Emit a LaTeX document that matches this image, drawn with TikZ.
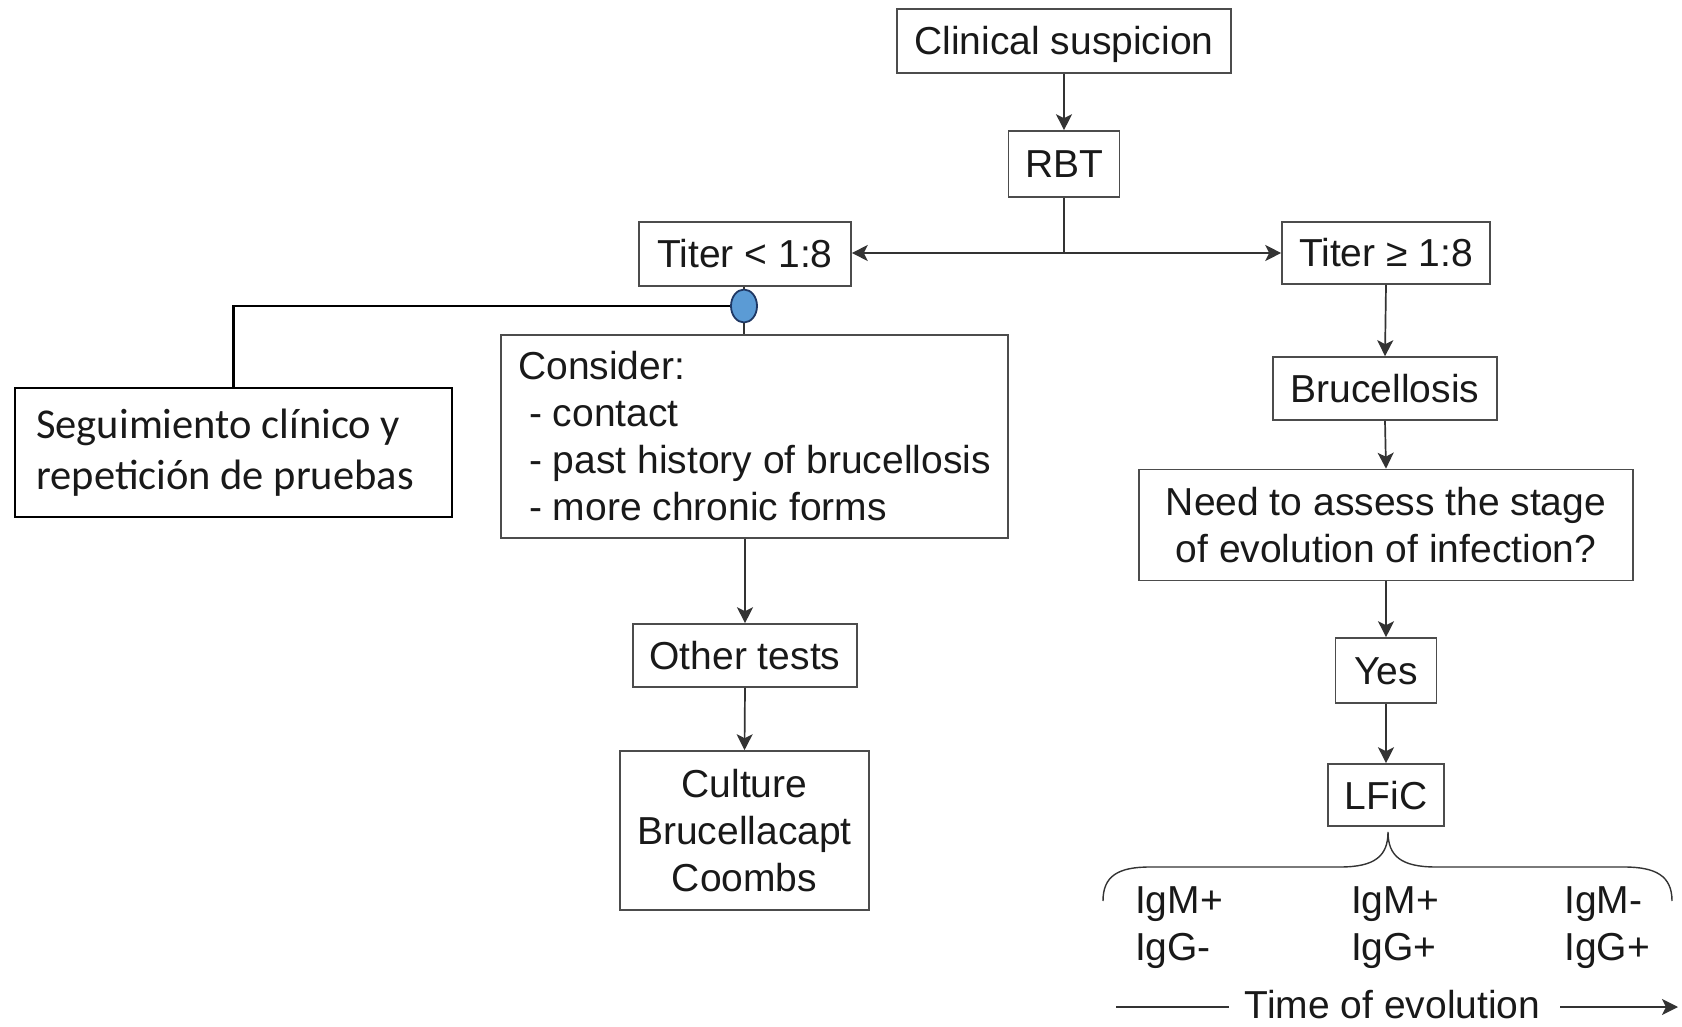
\documentclass[tikz,border=0pt]{standalone}
\usepackage{fontspec}
\setmainfont{Liberation Sans}
\newfontfamily\calibri{Carlito}
\usetikzlibrary{arrows.meta}
\usetikzlibrary{shapes.geometric}
\usetikzlibrary{calc}
\definecolor{dotfill}{RGB}{91,155,213}
\definecolor{dotline}{RGB}{31,56,100}

\begin{document}
\begin{tikzpicture}[x=1pt,y=-1pt,
  box/.style={draw=black!70,line width=1.6pt,inner sep=0pt,text=black!90,font=\fontsize{39}{47}\selectfont},
  single/.style={box,text height=28pt,text depth=0pt},
  lbl/.style={inner sep=0pt,text=black!90,font=\fontsize{39}{47}\selectfont},
  arr/.style={draw=black!80,line width=1.7pt,-{Stealth[length=16pt,width=16pt,inset=4pt]}},
  link/.style={draw=black!80,line width=1.7pt},
  dot/.style={ellipse,draw=dotline,fill=dotfill,line width=1.8pt,minimum width=26pt,minimum height=33pt,inner sep=0pt}]
\useasboundingbox (0,0) rectangle (1682,1027);

% top
\node[single,minimum width=334pt,minimum height=64pt] (clin) at (1064,41) {Clinical suspicion};
\node[single,minimum width=111pt,minimum height=66pt] (rbt) at (1064,164) {RBT};
\node[single,minimum width=212pt,minimum height=64pt] (tlow) at (745,254) {Titer < 1:8};
\node[single,minimum width=208pt,minimum height=62pt] (thigh) at (1386,253) {Titer ≥ 1:8};

% left branch
\node[dot] (knot) at (744,306) {};
\node[box,draw=black,line width=2.4pt,align=left,minimum width=437pt,minimum height=129pt,
  font=\calibri\fontsize{42.5}{51}\selectfont] (seg) at (233.5,452.5)
  {Seguimiento clínico y\hspace*{17pt}\\repetición de pruebas\hspace*{17pt}};
\node[box,align=left,minimum width=507pt,minimum height=203pt] (consider) at (754.5,436.5)
  {Consider:\\\hspace*{11pt}- contact\\\hspace*{11pt}- past history of brucellosis\\\hspace*{11pt}- more chronic forms};
\node[single,minimum width=224pt,minimum height=63pt] (other) at (745,655.5) {Other tests};
\node[box,align=center,minimum width=249pt,minimum height=159pt] (culture) at (744.5,830.5) {Culture\\Brucellacapt\\Coombs};

% right branch
\node[single,minimum width=224pt,minimum height=63pt] (bruc) at (1385,388.5) {Brucellosis};
\node[box,align=center,minimum width=494pt,minimum height=111pt] (need) at (1386,525)
  {Need to assess the stage\\of evolution of infection?};
\node[single,minimum width=101pt,minimum height=65pt] (yes) at (1386,670.5) {Yes};
\node[single,minimum width=116pt,minimum height=62pt] (lfic) at (1386,795) {LFiC};

\node[lbl,align=left] (early) at (1179,928) {IgM+\\IgG-};
\node[lbl,align=left] (mid) at (1395,928) {IgM+\\IgG+};
\node[lbl,align=left] (late) at (1607,928) {IgM-\\IgG+};
\node[lbl] (time) at (1392.5,1005) {Time of evolution};

% connectors
\draw[arr] (clin.south) -- (rbt.north);
\coordinate (split) at (1064,253);
\draw[link] (rbt.south) -- (split);
\draw[arr] (split) -- (split -| tlow.east);
\draw[arr] (split) -- (thigh.west);

\draw[link] (tlow.south -| knot) -- (knot.north);
\draw[link] (knot.south) -- (knot.south |- consider.north);
\draw[black,line width=2.6pt] (knot.west) -| (seg.north);
\draw[arr] (consider.south -| other) -- (other.north);
\draw[arr] (other.south) -- (culture.north);

\draw[arr] (thigh.south) -- (bruc.north);
\draw[arr] (bruc.south) -- (need.north);
\draw[arr] (need.south) -- (yes.north);
\draw[arr] (yes.south) -- (lfic.north);

% brace
\coordinate (tip) at ($(lfic.south)+(2,5)$);
\draw[link,line width=1.4pt] (1103,901) .. controls (1103,876) and (1118,867) .. (1150,867) -- (1340,867)
  .. controls (1375,867) and (1388,856) .. (tip)
  .. controls (1388,856) and (1401,867) .. (1436,867) -- (1624,867)
  .. controls (1656,867) and (1672,876) .. (1672,901);

% time axis
\coordinate (tstart) at (1116,1007);
\coordinate (tend) at (1678,1007);
\draw[link] (tstart) -- ([xshift=-16pt]time.west |- tstart);
\draw[arr] ([xshift=20pt]time.east |- tend) -- (tend);
\end{tikzpicture}
\end{document}
